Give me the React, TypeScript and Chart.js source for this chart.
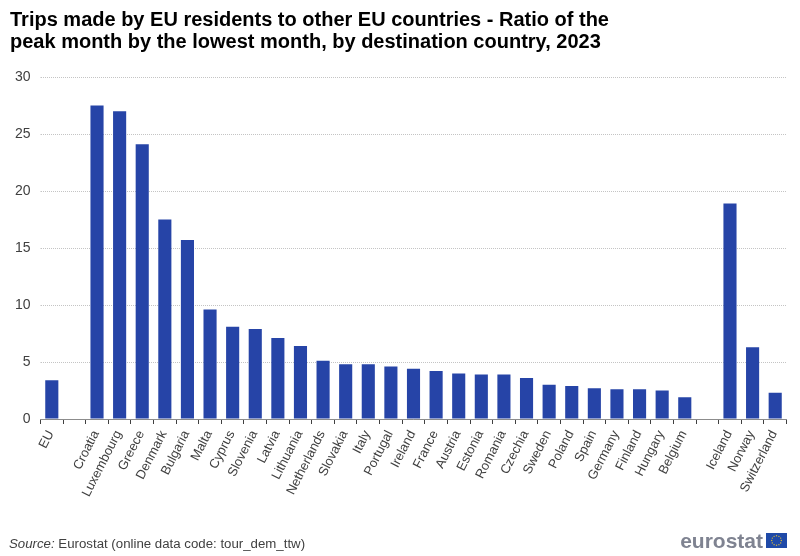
import { useEffect, useRef } from "react"
import { Chart, registerables } from "chart.js"
import type { Plugin } from "chart.js"

Chart.register(...registerables)

const FONT = "'Liberation Sans', Arial, sans-serif"

const titleLines = [
  "Trips made by EU residents to other EU countries - Ratio of the",
  "peak month by the lowest month, by destination country, 2023",
]

// empty labels are the gaps between the EU, member state and EFTA groups
const countries = [
  "EU", "", "Croatia", "Luxembourg", "Greece", "Denmark", "Bulgaria", "Malta", "Cyprus",
  "Slovenia", "Latvia", "Lithuania", "Netherlands", "Slovakia", "Italy", "Portugal", "Ireland",
  "France", "Austria", "Estonia", "Romania", "Czechia", "Sweden", "Poland", "Spain", "Germany",
  "Finland", "Hungary", "Belgium", "", "Iceland", "Norway", "Switzerland",
]

const ratios = [
  3.4, null, 27.5, 27.0, 24.1, 17.5, 15.7, 9.6, 8.1,
  7.9, 7.1, 6.4, 5.1, 4.8, 4.8, 4.6, 4.4,
  4.2, 4.0, 3.9, 3.9, 3.6, 3.0, 2.9, 2.7, 2.6,
  2.6, 2.5, 1.9, null, 18.9, 6.3, 2.3,
]

// Source line and eurostat logo at the bottom of the figure
const footer: Plugin<"bar"> = {
  id: "footer",
  afterDraw(chart) {
    const ctx = chart.ctx
    ctx.save()
    ctx.textBaseline = "alphabetic"
    ctx.textAlign = "left"
    ctx.fillStyle = "#404040"
    ctx.font = `italic 13.25px ${FONT}`
    ctx.fillText("Source:", 9, 548)
    const w = ctx.measureText("Source:").width
    ctx.font = `13.25px ${FONT}`
    ctx.fillText(" Eurostat (online data code: tour_dem_ttw)", 9 + w, 548)

    ctx.fillStyle = "#7f8391"
    ctx.font = `bold 21px ${FONT}`
    ctx.textAlign = "right"
    ctx.fillText("eurostat", 763, 548)

    ctx.fillStyle = "#1f4aa8"
    ctx.fillRect(766, 533, 21, 15)
    ctx.fillStyle = "#d8b83a"
    for (let i = 0; i < 12; i++) {
      const a = (i * Math.PI) / 6
      ctx.beginPath()
      ctx.arc(776.5 + Math.cos(a) * 4.8, 540.5 + Math.sin(a) * 4.8, 0.7, 0, Math.PI * 2)
      ctx.fill()
    }
    ctx.restore()
  },
}

export default function App() {
  const chartRef = useRef<HTMLCanvasElement>(null)

  useEffect(() => {
    if (!chartRef.current) return

    const chart = new Chart(chartRef.current, {
      type: "bar",
      data: {
        labels: countries,
        datasets: [
          {
            data: ratios,
            backgroundColor: "#2644a7",
            barPercentage: 0.58,
            categoryPercentage: 1,
          },
        ],
      },
      options: {
        responsive: false,
        animation: false,
        layout: { padding: { left: 10, right: 13.5, top: 9, bottom: 0 } },
        plugins: {
          legend: { display: false },
          tooltip: { enabled: false },
          title: {
            display: true,
            text: titleLines,
            align: "start",
            color: "#000000",
            font: { family: FONT, size: 20, weight: "bold", lineHeight: 1.1 },
            padding: { top: 0, bottom: 24 },
          },
        },
        scales: {
          x: {
            afterFit: (scale) => {
              scale.height = 137
            },
            border: { display: true, color: "#8c8c8c", width: 1 },
            grid: {
              display: true,
              offset: true,
              drawOnChartArea: false,
              drawTicks: true,
              tickLength: 5,
              tickColor: "#404040",
            },
            ticks: {
              autoSkip: false,
              maxRotation: 63,
              minRotation: 63,
              color: "#404040",
              font: { family: FONT, size: 13 },
              padding: 4,
              labelOffset: -1,
            },
          },
          y: {
            min: 0,
            max: 30,
            afterFit: (scale) => {
              scale.width = 30.5
            },
            border: { display: false, dash: [1, 1] },
            grid: {
              color: "#c4c4c4",
              lineWidth: 1,
              tickLength: 0,
            },
            ticks: {
              stepSize: 5,
              color: "#404040",
              font: { family: FONT, size: 14 },
              padding: 10,
            },
          },
        },
      },
      plugins: [footer],
    })

    return () => {
      chart.destroy()
    }
  }, [])

  return (
    <div style={{ position: "absolute", left: 0, top: 0, width: 800, height: 556 }}>
      <canvas ref={chartRef} width={800} height={556} style={{ display: "block" }} />
    </div>
  )
}
